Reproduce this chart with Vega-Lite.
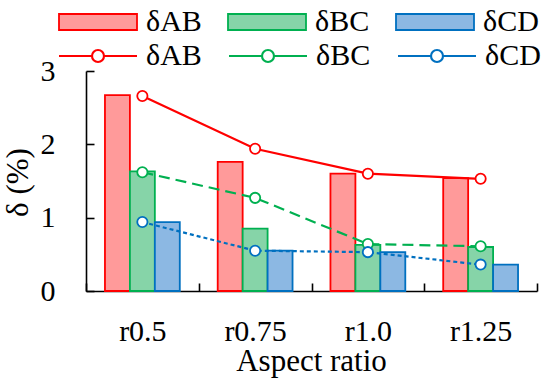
{
  "$schema": "https://vega.github.io/schema/vega-lite/v6.json",
  "width": 451,
  "height": 220,
  "autosize": {"type": "none"},
  "padding": {"left": 86, "top": 71, "right": 13, "bottom": 90},
  "background": "white",
  "config": {
    "font": "'Liberation Serif', 'Times New Roman', serif",
    "view": {"stroke": null},
    "axis": {
      "labelFont": "'Liberation Serif', 'Times New Roman', serif",
      "titleFont": "'Liberation Serif', 'Times New Roman', serif",
      "labelColor": "black",
      "titleColor": "black",
      "domainColor": "black",
      "tickColor": "black",
      "labelFontSize": 30,
      "titleFontSize": 31,
      "titleFontWeight": "normal",
      "domainWidth": 1.6,
      "tickWidth": 1.6,
      "grid": false
    },
    "legend": {
      "labelFont": "'Liberation Serif', 'Times New Roman', serif",
      "labelColor": "black",
      "labelFontSize": 30,
      "padding": 0,
      "symbolBaseFillColor": "white"
    }
  },
  "datasets": {
    "bars": [
      {"ratio": "r0.5", "series": "δAB", "value": 2.67},
      {"ratio": "r0.5", "series": "δBC", "value": 1.63},
      {"ratio": "r0.5", "series": "δCD", "value": 0.94},
      {"ratio": "r0.75", "series": "δAB", "value": 1.76},
      {"ratio": "r0.75", "series": "δBC", "value": 0.85},
      {"ratio": "r0.75", "series": "δCD", "value": 0.55},
      {"ratio": "r1.0", "series": "δAB", "value": 1.60},
      {"ratio": "r1.0", "series": "δBC", "value": 0.63},
      {"ratio": "r1.0", "series": "δCD", "value": 0.53},
      {"ratio": "r1.25", "series": "δAB", "value": 1.54},
      {"ratio": "r1.25", "series": "δBC", "value": 0.60},
      {"ratio": "r1.25", "series": "δCD", "value": 0.36}
    ],
    "lines": [
      {"ratio": "r0.5", "series": "δAB", "value": 2.66},
      {"ratio": "r0.5", "series": "δBC", "value": 1.62},
      {"ratio": "r0.5", "series": "δCD", "value": 0.94},
      {"ratio": "r0.75", "series": "δAB", "value": 1.94},
      {"ratio": "r0.75", "series": "δBC", "value": 1.27},
      {"ratio": "r0.75", "series": "δCD", "value": 0.55},
      {"ratio": "r1.0", "series": "δAB", "value": 1.60},
      {"ratio": "r1.0", "series": "δBC", "value": 0.64},
      {"ratio": "r1.0", "series": "δCD", "value": 0.53},
      {"ratio": "r1.25", "series": "δAB", "value": 1.53},
      {"ratio": "r1.25", "series": "δBC", "value": 0.61},
      {"ratio": "r1.25", "series": "δCD", "value": 0.36}
    ]
  },
  "encoding": {
    "x": {
      "field": "ratio",
      "type": "nominal",
      "scale": {"paddingInner": 0, "paddingOuter": 0},
      "axis": {
        "title": "Aspect ratio",
        "labelAngle": 0,
        "tickBand": "extent",
        "tickSize": -8,
        "labelPadding": 33,
        "titleX": 225,
        "titleY": 79,
        "titleAlign": "center",
        "titleBaseline": "alphabetic"
      }
    },
    "y": {
      "field": "value",
      "type": "quantitative",
      "scale": {"domain": [0, 3], "nice": false},
      "axis": {
        "title": "δ (%)",
        "values": [0, 1, 2, 3],
        "tickSize": -8,
        "labelPadding": 39,
        "titleX": -59,
        "titleY": 111,
        "titleAngle": -90,
        "titleAlign": "center",
        "titleBaseline": "alphabetic"
      }
    }
  },
  "layer": [
    {
      "data": {"name": "bars"},
      "mark": {"type": "bar", "strokeWidth": 1.8},
      "encoding": {
        "xOffset": {"field": "series", "type": "nominal", "scale": {"paddingInner": 0, "paddingOuter": 0.76}},
        "fill": {
          "field": "series",
          "type": "nominal",
          "scale": {"range": ["#ff9a9a", "#86d4a8", "#8cb8e3"]},
          "legend": {
            "orient": "none",
            "legendX": -3,
            "legendY": -64,
            "direction": "horizontal",
            "title": null,
            "symbolType": "M-4.875,-1H4.875V1H-4.875Z",
            "symbolSize": 256,
            "symbolStrokeWidth": 1.8,
            "labelOffset": 33,
            "columnPadding": 22,
            "encode": {"symbols": {"update": {"stroke": {"scale": "stroke", "field": "value"}, "strokeWidth": {"value": 1.8}}}}
          }
        },
        "stroke": {
          "field": "series",
          "type": "nominal",
          "scale": {"range": ["#ff0000", "#00b050", "#0070c0"]}
        }
      }
    },
    {
      "data": {"name": "lines"},
      "transform": [{"filter": "datum.series === 'δAB'"}],
      "mark": {"type": "line", "strokeWidth": 2.2},
      "encoding": {"stroke": {"field": "series", "type": "nominal"}}
    },
    {
      "data": {"name": "lines"},
      "transform": [{"filter": "datum.series === 'δBC'"}],
      "mark": {"type": "line", "strokeWidth": 2.2, "strokeDash": [11, 6]},
      "encoding": {"stroke": {"field": "series", "type": "nominal"}}
    },
    {
      "data": {"name": "lines"},
      "transform": [{"filter": "datum.series === 'δCD'"}],
      "mark": {"type": "line", "strokeWidth": 2.2, "strokeDash": [4, 3]},
      "encoding": {"stroke": {"field": "series", "type": "nominal"}}
    },
    {
      "data": {"name": "lines"},
      "mark": {"type": "point", "shape": "circle", "filled": false, "fill": "white", "size": 105, "strokeWidth": 1.8, "opacity": 1},
      "encoding": {
        "stroke": {
          "field": "series",
          "type": "nominal",
          "legend": {
            "orient": "none",
            "legendX": -3,
            "legendY": -30,
            "direction": "horizontal",
            "title": null,
            "symbolType": "M-4.875,0H-0.75M0.75,0H4.875M0.75,0A0.75 0.75 0 1 1 -0.75,0A0.75 0.75 0 1 1 0.75,0Z",
            "symbolSize": 256,
            "symbolStrokeWidth": 2.2,
            "symbolFillColor": "white",
            "labelOffset": 33,
            "columnPadding": 22,
            "encode": {"symbols": {"update": {
              "fill": {"value": "white"},
              "strokeWidth": {"value": 2.2},
              "strokeDash": {"signal": "datum.value === 'δBC' ? [11, 6] : datum.value === 'δCD' ? [4, 3] : [1, 0]"}
            }}}
          }
        }
      }
    }
  ]
}
